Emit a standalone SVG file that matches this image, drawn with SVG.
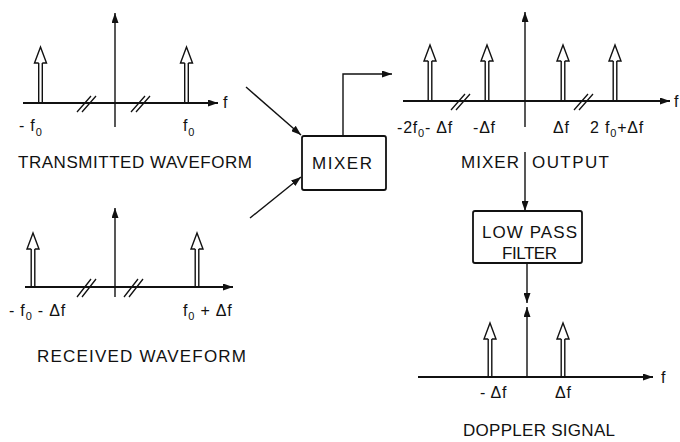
<svg xmlns="http://www.w3.org/2000/svg" xmlns:xlink="http://www.w3.org/1999/xlink" width="680" height="442" viewBox="0 0 680 442">
<style>
  text { font-family: "Liberation Sans", Arial, sans-serif; fill: #111; }
  .lab { font-size: 16px; letter-spacing: 0.8px; }
  .sub { font-size: 11px; }
  .ttl { font-size: 17px; }
  .base { stroke: #111; stroke-width: 2; fill: none; }
  .axis { stroke: #111; stroke-width: 1.4; fill: none; }
  .brk { stroke: #111; stroke-width: 1.3; fill: none; }
  .imp { stroke: #111; stroke-width: 1.4; fill: #fff; }
  .box { stroke: #111; stroke-width: 1.8; fill: #fff; }
  .conn { stroke: #111; stroke-width: 1.4; fill: none; }
</style>
<defs>
  <marker id="arr" viewBox="0 0 10 7" refX="10" refY="3.5" markerWidth="10" markerHeight="7" markerUnits="userSpaceOnUse" orient="auto">
    <path d="M0,0 L10,3.5 L0,7 Z" fill="#111"/>
  </marker>
  <g id="imp56">
    <path class="imp" d="M-1.8,0 V-40 M1.8,0 V-40" fill="none"/>
    <polyline class="imp" points="-1.8,-40 -6,-40 0,-56 6,-40 1.8,-40"/>
  </g>
  <g id="imp54">
    <path class="imp" d="M-1.8,0 V-38 M1.8,0 V-38" fill="none"/>
    <polyline class="imp" points="-1.8,-38 -6,-38 0,-54 6,-38 1.8,-38"/>
  </g>
</defs>
<rect width="680" height="442" fill="#fff"/>

<g id="transmitted">
  <line class="base" x1="23" y1="103" x2="218" y2="103" marker-end="url(#arr)"/>
  <line class="axis" x1="115" y1="127" x2="115" y2="13" marker-end="url(#arr)"/>
  <path class="brk" d="M77,112 L91,96 M82,112 L96,96 M131,112 L145,96 M136,112 L150,96"/>
  <use xlink:href="#imp56" x="40.5" y="103"/>
  <use xlink:href="#imp56" x="186.5" y="103"/>
  <text class="lab" x="223" y="108">f</text>
  <text class="lab" x="19" y="131">- f<tspan class="sub" dy="5">0</tspan></text>
  <text class="lab" x="183" y="131">f<tspan class="sub" dy="5">0</tspan></text>
  <text class="ttl" x="18" y="168" textLength="234" lengthAdjust="spacing">TRANSMITTED WAVEFORM</text>
</g>

<g id="received">
  <line class="base" x1="25" y1="287" x2="233" y2="287" marker-end="url(#arr)"/>
  <line class="axis" x1="115" y1="297" x2="115" y2="208" marker-end="url(#arr)"/>
  <path class="brk" d="M77,297 L91,279 M82,297 L96,279 M124,297 L138,279 M129,297 L143,279"/>
  <use xlink:href="#imp54" x="33" y="287"/>
  <use xlink:href="#imp54" x="197" y="287"/>
  <text class="lab" x="9" y="316">- f<tspan class="sub" dy="4">0</tspan><tspan dy="-4"> - Δf</tspan></text>
  <text class="lab" x="183" y="316">f<tspan class="sub" dy="4">0</tspan><tspan dy="-4"> + Δf</tspan></text>
  <text class="ttl" x="37" y="362" textLength="209" lengthAdjust="spacing">RECEIVED WAVEFORM</text>
</g>

<g id="mixer">
  <rect class="box" x="302" y="136" width="84" height="54" rx="2"/>
  <text class="ttl" x="312" y="169" textLength="60" lengthAdjust="spacing">MIXER</text>
</g>

<g id="mixer-output">
  <line class="base" x1="403" y1="101" x2="670" y2="101" marker-end="url(#arr)"/>
  <line class="axis" x1="525" y1="127" x2="525" y2="12" marker-end="url(#arr)"/>
  <path class="brk" d="M451,110 L465,94 M456,110 L470,94 M574,110 L588,94 M579,110 L593,94"/>
  <use xlink:href="#imp56" x="430" y="101"/>
  <use xlink:href="#imp56" x="487" y="101"/>
  <use xlink:href="#imp56" x="563" y="101"/>
  <use xlink:href="#imp56" x="615" y="101"/>
  <text class="lab" x="674" y="107">f</text>
  <text class="lab" x="397" y="133">-2f<tspan class="sub" dy="4">0</tspan><tspan dy="-4">- Δf</tspan></text>
  <text class="lab" x="473" y="133">-Δf</text>
  <text class="lab" x="553" y="133">Δf</text>
  <text class="lab" x="590" y="133">2 f<tspan class="sub" dy="4">0</tspan><tspan dy="-4">+Δf</tspan></text>
  <text class="ttl" x="461" y="168" textLength="58" lengthAdjust="spacing">MIXER</text>
  <text class="ttl" x="532" y="168" textLength="77" lengthAdjust="spacing">OUTPUT</text>
</g>

<g id="low-pass-filter">
  <rect class="box" x="473" y="211" width="109" height="52" rx="2"/>
  <text class="ttl" x="482" y="238" textLength="95" lengthAdjust="spacing">LOW PASS</text>
  <text class="ttl" x="502" y="259" textLength="55" lengthAdjust="spacing">FILTER</text>
</g>

<g id="doppler-signal">
  <line class="base" x1="418" y1="377" x2="653" y2="377" marker-end="url(#arr)"/>
  <line class="axis" x1="527" y1="377" x2="527" y2="307" marker-end="url(#arr)"/>
  <use xlink:href="#imp54" x="490" y="377"/>
  <use xlink:href="#imp54" x="563" y="377"/>
  <text class="lab" x="661" y="383">f</text>
  <text class="lab" x="480" y="398">- Δf</text>
  <text class="lab" x="555" y="398">Δf</text>
  <text class="ttl" x="463" y="436" textLength="152" lengthAdjust="spacing">DOPPLER SIGNAL</text>
</g>

<g id="connectors">
  <line class="conn" x1="246" y1="87" x2="301" y2="135" marker-end="url(#arr)"/>
  <line class="conn" x1="250" y1="218" x2="301" y2="177" marker-end="url(#arr)"/>
  <polyline class="conn" points="343,136 343,74 392,74" marker-end="url(#arr)"/>
  <line class="conn" x1="525" y1="152" x2="525" y2="211" marker-end="url(#arr)"/>
  <line class="conn" x1="527" y1="263" x2="527" y2="303" marker-end="url(#arr)"/>
</g>
</svg>
